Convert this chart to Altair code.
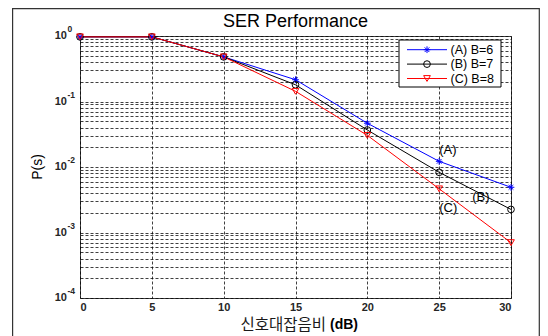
import altair as alt
import pandas as pd

# ---- data ----
snr = [0, 5, 10, 15, 20, 25, 30]
ser_a = [0.97, 0.97, 0.48, 0.215, 0.0466, 0.0122, 0.0049]
ser_b = [0.97, 0.97, 0.48, 0.180, 0.0367, 0.0083, 0.00225]
ser_c = [0.97, 0.97, 0.48, 0.143, 0.0304, 0.00464, 0.0007]
series_names = ["(A) B=6", "(B) B=7", "(C) B=8"]
series_colors = ["#0000ff", "#000000", "#ff0000"]
x_ticks = [0, 5, 10, 15, 20, 25, 30]
y_exps = [0, -1, -2, -3, -4]
annot_text = ["(A)", "(B)", "(C)"]
annot_x = [25.0, 27.3, 25.0]
annot_y = [0.0181, 0.00345, 0.00233]

ASTERISK = "M0,-1L0,1M-1,0L1,0M-0.7,-0.7L0.7,0.7M-0.7,0.7L0.7,-0.7"
series_shapes = [ASTERISK, "circle", "triangle-down"]

FONT = "Liberation Sans"
KFONT = "Noto Sans CJK KR"
W, H = 431, 262

rows = []
for name, vals in zip(series_names, [ser_a, ser_b, ser_c]):
    for s, v in zip(snr, vals):
        rows.append({"snr": s, "p": v, "series": name})
df = pd.DataFrame(rows)

y_grid = [m * 10.0 ** e for e in range(-4, 0) for m in range(1, 10)] + [1.0]

xs = alt.Scale(domain=[0, 30], nice=False, zero=False)
ys = alt.Scale(type="log", domain=[1e-4, 1], nice=False)
x_axis = alt.Axis(values=x_ticks, grid=True, ticks=False, domain=False, title=None,
                  labelFont=FONT, labelFontSize=11, labelFontWeight="bold",
                  labelColor="#262626", labelPadding=3)
y_axis = alt.Axis(values=y_grid, grid=True, ticks=False, domain=False, labels=False, title=None)
col = alt.Color("series:N", scale=alt.Scale(domain=series_names, range=series_colors), legend=None)
shp = alt.Shape("series:N", scale=alt.Scale(domain=series_names, range=series_shapes), legend=None)

one = pd.DataFrame({"k": [0]})

frame = alt.Chart(one).mark_rect(fillOpacity=0, stroke="#333333", strokeWidth=1.2).encode(
    x=alt.value(-67.4), x2=alt.value(459.3), y=alt.value(-27.4), y2=alt.value(320))

lines = alt.Chart(df).mark_line(strokeWidth=1).encode(
    x=alt.X("snr:Q", scale=xs, axis=x_axis),
    y=alt.Y("p:Q", scale=ys, axis=y_axis),
    color=col)

points = alt.Chart(df).mark_point(filled=False, size=45, strokeWidth=1, opacity=1).encode(
    x=alt.X("snr:Q", scale=xs, axis=x_axis),
    y=alt.Y("p:Q", scale=ys, axis=y_axis),
    color=col, shape=shp)

ann_df = pd.DataFrame({"t": annot_text, "x": annot_x, "y": annot_y})
annots = alt.Chart(ann_df).mark_text(font=FONT, fontSize=13, align="left", baseline="middle",
                                     color="#000000").encode(
    x=alt.X("x:Q", scale=xs, axis=x_axis),
    y=alt.Y("y:Q", scale=ys, axis=y_axis),
    text="t:N")

# y tick labels 10^e
exp_df = pd.DataFrame({"e": y_exps})
ylab_base = alt.Chart(exp_df).transform_calculate(
    yv="pow(10, datum.e)", ex="toString(datum.e)")
ylab_ten = ylab_base.mark_text(font=FONT, fontSize=11, fontWeight="bold", align="right",
                               baseline="middle", color="#262626", text="10").encode(
    x=alt.value(-13), y=alt.Y("yv:Q", scale=ys, axis=y_axis))
ylab_exp = ylab_base.mark_text(font=FONT, fontSize=8.5, fontWeight="bold", align="left",
                               baseline="middle", color="#262626", dy=-7).encode(
    x=alt.value(-12.5), y=alt.Y("yv:Q", scale=ys, axis=y_axis), text="ex:N")

# titles
title = alt.Chart(one).mark_text(text="SER Performance", font=FONT, fontSize=18,
                                 align="center", baseline="alphabetic", color="#000000").encode(
    x=alt.value(W / 2), y=alt.value(-9))
ytitle = alt.Chart(one).mark_text(text="P(s)", font=FONT, fontSize=14, angle=270,
                                  align="center", baseline="middle", color="#000000").encode(
    x=alt.value(-42), y=alt.value(H / 2))
xtitle_k = alt.Chart(one).mark_text(text="신호대잡음비", font=KFONT, fontSize=15.5,
                                    align="right", baseline="middle", color="#1a1a1a").encode(
    x=alt.value(246), y=alt.value(288.5))
xtitle_u = alt.Chart(one).mark_text(text="(dB)", font=FONT, fontSize=14, fontWeight="bold",
                                    align="left", baseline="middle", color="#000000").encode(
    x=alt.value(250), y=alt.value(289))

# legend (manual, MATLAB style)
leg_layers = [alt.Chart(one).mark_rect(fill="#ffffff", stroke="#000000", strokeWidth=1).encode(
    x=alt.value(319), x2=alt.value(421), y=alt.value(4), y2=alt.value(51))]
for i, (name, c, s) in enumerate(zip(series_names, series_colors, series_shapes)):
    yy = 13.7 + 14.4 * i
    leg_layers.append(alt.Chart(one).mark_rule(color=c, strokeWidth=1).encode(
        x=alt.value(327), x2=alt.value(367), y=alt.value(yy)))
    leg_layers.append(alt.Chart(one).mark_point(shape=s, filled=False, size=45, strokeWidth=1,
                                                color=c, opacity=1).encode(
        x=alt.value(347), y=alt.value(yy)))
    leg_layers.append(alt.Chart(one).mark_text(text=name, font=FONT, fontSize=12.5, align="left",
                                               baseline="middle", color="#000000").encode(
        x=alt.value(370.5), y=alt.value(yy)))

chart = alt.layer(
    frame, lines, points, annots, ylab_ten, ylab_exp, title, ytitle, xtitle_k, xtitle_u,
    *leg_layers
).properties(
    width=W, height=H,
    autosize=alt.AutoSizeParams(type="none"),
    padding={"left": 72, "top": 28, "right": 29, "bottom": 38},
).configure_view(
    stroke="#444444", strokeWidth=1
).configure_axis(
    gridColor="#000000", gridDash=[3, 2], gridOpacity=0.75, gridWidth=1
)

chart.save("out.html", embed_options={"renderer": "svg", "actions": False})
